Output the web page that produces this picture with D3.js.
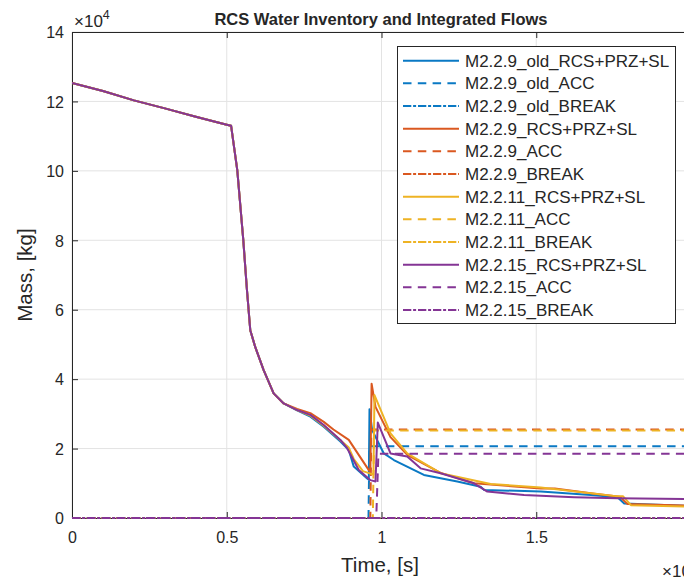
<!DOCTYPE html>
<html><head><meta charset="utf-8">
<script src="https://cdn.jsdelivr.net/npm/d3@7"></script>
<style>
html,body{margin:0;padding:0;background:#fff;overflow:hidden;}
text{font-family:"Liberation Sans",Arial,Helvetica,sans-serif;fill:#262626;}
</style></head>
<body><svg id="c" width="684" height="579"></svg>
<script>
// ---------- data (time in s, mass in kg) ----------
const commonTime = [0, 1000, 2000, 3000, 4000, 5000, 5140, 5340, 5534, 5650, 5760, 5922, 6192, 6515, 6839];
const commonMass = [125300, 123000, 120300, 118000, 115600, 113300, 113000, 100200, 80100, 66000, 54100, 49200, 42600, 35900, 33000];

const oldRcsTime = [7272, 7702, 8134, 8673, 8943, 9104, 9536, 9590, 9612, 9698, 10075, 10399, 11370, 12449, 13204, 13311, 15146, 16764, 17627, 17842, 19773, 20000];
const oldRcsMass = [31000, 29200, 26300, 22000, 19600, 14800, 11400, 11000, 31300, 25300, 18600, 16700, 12400, 10500, 9000, 8100, 7600, 6600, 6000, 4200, 3500, 3500];

const m9RcsTime = [7272, 7702, 8134, 8447, 8943, 9590, 9640, 9680, 9806, 10291, 10841, 11909, 12988, 15146, 15600, 16764, 17700, 17950, 19773, 20000];
const m9RcsMass = [31400, 30200, 27700, 25500, 22500, 13800, 13500, 38700, 32000, 23300, 18100, 13000, 10000, 8500, 8500, 7100, 6100, 4000, 3600, 3600];

const m11RcsTime = [7272, 7702, 8134, 8673, 8943, 9104, 9400, 9740, 9773, 10291, 10831, 11909, 13528, 15146, 17573, 17800, 18058, 19773, 20000];
const m11RcsMass = [31100, 29500, 26600, 22400, 20300, 17000, 13500, 12500, 35400, 24400, 18600, 12900, 9800, 8800, 6300, 6300, 3700, 3300, 3300];

const m15RcsTime = [7272, 7702, 8134, 8673, 8890, 9266, 9644, 9806, 9881, 10291, 10831, 11262, 11909, 12988, 13420, 14606, 16224, 17627, 19784, 20000];
const m15RcsMass = [31100, 29700, 26800, 22500, 20100, 13800, 10900, 10500, 27500, 18600, 17700, 14300, 12900, 10000, 7600, 6600, 6000, 5700, 5500, 5500];

const accTime = {old: [0, 9580, 9610, 20000], m9: [0, 9640, 9670, 20000], m11: [0, 9720, 9760, 20000], m15: [0, 9830, 9900, 20000]};
const accMass = {old: [0, 0, 20700, 20700], m9: [0, 0, 25500, 25500], m11: [0, 0, 25200, 25200], m15: [0, 0, 18500, 18500]};

const breakTime = [0, 20000];
const breakMass = [0, 0];

const seriesNames = ["M2.2.9_old_RCS+PRZ+SL","M2.2.9_old_ACC","M2.2.9_old_BREAK",
  "M2.2.9_RCS+PRZ+SL","M2.2.9_ACC","M2.2.9_BREAK",
  "M2.2.11_RCS+PRZ+SL","M2.2.11_ACC","M2.2.11_BREAK",
  "M2.2.15_RCS+PRZ+SL","M2.2.15_ACC","M2.2.15_BREAK"];
const xTicks = [0, 5000, 10000, 15000];
const xTickLabels = ["0", "0.5", "1", "1.5"];
const yTicks = [0, 20000, 40000, 60000, 80000, 100000, 120000, 140000];
const yTickLabels = ["0", "2", "4", "6", "8", "10", "12", "14"];

// ---------- build series ----------
const zip = (t, m) => t.map((v, i) => [v, m[i]]);
const common = zip(commonTime, commonMass);
const colors = ["#0a79c4", "#da5820", "#eeb324", "#843595"];
const keys = ["old", "m9", "m11", "m15"];
const rcs = [zip(oldRcsTime, oldRcsMass), zip(m9RcsTime, m9RcsMass), zip(m11RcsTime, m11RcsMass), zip(m15RcsTime, m15RcsMass)];
const styles = {solid: null, dash: "8.5,6.3", dashdot: "8.3,1.8,3,1.9"};
const series = [];
keys.forEach((k, i) => {
  series.push({name: seriesNames[i*3], color: colors[i], dash: styles.solid, data: common.concat(rcs[i])});
  series.push({name: seriesNames[i*3+1], color: colors[i], dash: styles.dash, data: zip(accTime[k], accMass[k])});
  series.push({name: seriesNames[i*3+2], color: colors[i], dash: styles.dashdot, data: zip(breakTime, breakMass)});
});

// ---------- layout ----------
const svg = d3.select("#c");
const L = 72, T = 32, R = 691, B = 518;
const x = d3.scaleLinear().domain([0, 20000]).range([L, R]);
const y = d3.scaleLinear().domain([0, 140000]).range([B, T]);

svg.append("rect").attr("x", 0).attr("y", 0).attr("width", 684).attr("height", 579).attr("fill", "#fff");
svg.append("defs").append("clipPath").attr("id", "clip").append("rect")
  .attr("x", L).attr("y", T - 2).attr("width", R - L).attr("height", B - T + 4);

// grid
const grid = svg.append("g");
xTicks.forEach(t => grid.append("line").attr("x1", x(t)).attr("x2", x(t)).attr("y1", T).attr("y2", B)
  .attr("stroke", "#e3e3e3").attr("stroke-width", 1));
yTicks.forEach(t => grid.append("line").attr("x1", L).attr("x2", R).attr("y1", y(t)).attr("y2", y(t))
  .attr("stroke", "#e3e3e3").attr("stroke-width", 1));

// axes
const axCol = "#262626";
const xAxis = d3.axisBottom(x).tickValues(xTicks).tickFormat((d, i) => xTickLabels[i]).tickSizeInner(-6).tickSizeOuter(0).tickPadding(14);
const gx = svg.append("g").attr("transform", `translate(0,${B})`).call(xAxis);
const yAxis = d3.axisLeft(y).tickValues(yTicks).tickFormat((d, i) => yTickLabels[i]).tickSizeInner(-6).tickSizeOuter(0).tickPadding(8);
const gy = svg.append("g").attr("transform", `translate(${L},0)`).call(yAxis);
const gxt = svg.append("g").attr("transform", `translate(0,${T})`).call(d3.axisTop(x).tickValues(xTicks).tickFormat("").tickSizeInner(-6).tickSizeOuter(0));
const gyr = svg.append("g").attr("transform", `translate(${R},0)`).call(d3.axisRight(y).tickValues(yTicks).tickFormat("").tickSizeInner(-6).tickSizeOuter(0));
[gx, gy, gxt, gyr].forEach(g => {
  g.select(".domain").attr("stroke", axCol).attr("stroke-width", 1);
  g.selectAll(".tick line").attr("stroke", axCol);
  g.selectAll("text").attr("font-size", 16).attr("fill", axCol)
    .style("font-family", "'Liberation Sans',Arial,sans-serif");
});
gy.selectAll("text").attr("dy", "0.36em");

// lines
const line = d3.line().x(d => x(d[0])).y(d => y(d[1]));
const plot = svg.append("g").attr("clip-path", "url(#clip)");
series.forEach(s => {
  plot.append("path").attr("d", line(s.data)).attr("fill", "none")
    .attr("stroke", s.color).attr("stroke-width", 2)
    .attr("stroke-dasharray", s.dash).attr("stroke-linejoin", "round");
});

// exponent labels
const e1 = svg.append("text").attr("x", 74).attr("y", 27).attr("font-size", 17);
e1.append("tspan").text("\u00d710");
e1.append("tspan").attr("dy", -8).attr("font-size", 12.5).text("4");
const e2 = svg.append("text").attr("x", 662).attr("y", 577).attr("font-size", 17);
e2.append("tspan").text("\u00d710");
e2.append("tspan").attr("dy", -8).attr("font-size", 12.5).text("4");

// title and labels
svg.append("text").attr("x", 381).attr("y", 25).attr("text-anchor", "middle")
  .attr("font-size", 16.5).attr("font-weight", "bold").attr("fill", "#000").text("RCS Water Inventory and Integrated Flows");
svg.append("text").attr("x", 380).attr("y", 572).attr("text-anchor", "middle")
  .attr("font-size", 20.5).text("Time, [s]");
svg.append("text").attr("transform", "translate(32,275) rotate(-90)").attr("text-anchor", "middle")
  .attr("font-size", 20.5).text("Mass, [kg]");

// legend
const lg = svg.append("g");
lg.append("rect").attr("x", 397.5).attr("y", 46.5).attr("width", 278).attr("height", 277)
  .attr("fill", "#fff").attr("stroke", axCol).attr("stroke-width", 1);
series.forEach((s, i) => {
  const cy = 60.7 + i * 22.66;
  lg.append("line").attr("x1", 403).attr("x2", 459).attr("y1", cy).attr("y2", cy)
    .attr("stroke", s.color).attr("stroke-width", 2).attr("stroke-dasharray", s.dash);
  lg.append("text").attr("x", 465).attr("y", cy).attr("dy", "0.36em").attr("font-size", 17)
    .attr("fill", "#000").text(s.name);
});
</script></body></html>
